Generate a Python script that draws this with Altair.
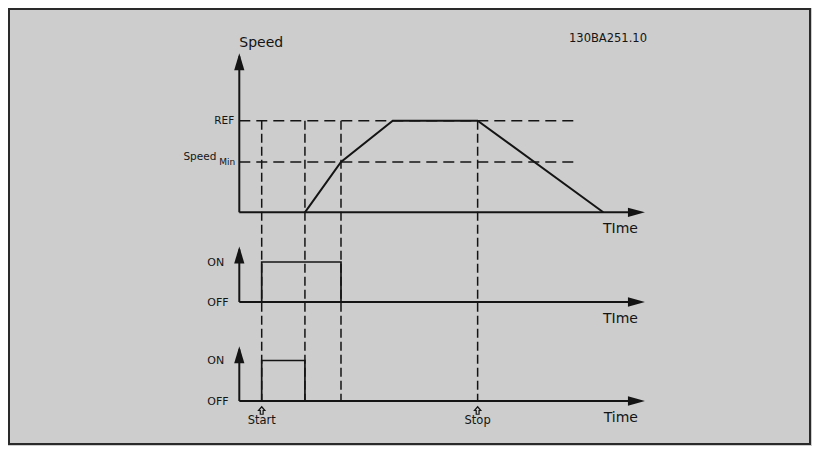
import altair as alt
import pandas as pd

# ---------------- data ----------------
# time in arbitrary units (start command at t = 1)
event_names = ["Start", "Stop"]
event_times = [1.0, 10.64]
guide_times = [1.0, 2.93, 4.54, 10.64]            # dashed vertical guides
ramp_times = [2.93, 4.54, 6.85, 10.64, 16.25]      # speed profile
ramp_speeds = [0, 55, 100, 100, 0]                 # % of REF
level_names = ["REF", "Speed"]
level_subs = ["", "Min"]
level_values = [100, 55]
guide_end = 15.06
time_end = 18.11
speed_top = 173.6
pulse1_times = [1.0, 1.0, 4.54, 4.54]
pulse1_states = [0, 1, 1, 0]
pulse2_times = [1.0, 1.0, 2.93, 2.93]
pulse2_states = [0, 1, 1, 0]
signal_tops = [1.39, 1.35]
time_labels = ["TIme", "TIme", "Time"]
state_labels = ["OFF", "ON"]
doc_code = "130BA251.10"
y_title = "Speed"

# ---------------- layout (styling only) ----------------
W, H = 801, 435
PAD = {"left": 1, "top": 1, "right": 2, "bottom": 2}
OFF_X, OFF_Y = 8 + PAD["left"], 8 + PAD["top"]
ORIGIN_PX = 239.3 - OFF_X          # where t = 0 sits
PX_PER_T = 22.4
t_min = -ORIGIN_PX / PX_PER_T
t_max = (W - ORIGIN_PX) / PX_PER_T
BASE_PAGE_Y = [212.3, 302.0, 401.0]
UNIT_PX = [0.916, 40.0, 40.5]
BASE = [H - (p - OFF_Y) for p in BASE_PAGE_Y]

INK = "#141414"
BG = "#cdcdcd"
FONT = "DejaVu Sans"


def ypos(panel, value):
    return BASE[panel] + UNIT_PX[panel] * value


X = alt.X("x:Q", scale=alt.Scale(domain=[t_min, t_max], nice=False, zero=False), axis=None)
Y = alt.Y("y:Q", scale=alt.Scale(domain=[0, H], nice=False, zero=False), axis=None)

# ---- signal lines ----
rows = []
for i, (t, v) in enumerate(zip(ramp_times, ramp_speeds)):
    rows.append(dict(series="speed", order=i, x=t, y=ypos(0, v)))
speed_df = pd.DataFrame(rows)
rows = []
for i, (t, v) in enumerate(zip(pulse1_times, pulse1_states)):
    rows.append(dict(series="p1", order=i, x=t, y=ypos(1, v)))
for i, (t, v) in enumerate(zip(pulse2_times, pulse2_states)):
    rows.append(dict(series="p2", order=i, x=t, y=ypos(2, v)))
pulse_df = pd.DataFrame(rows)

speed_line = alt.Chart(speed_df).mark_line(color=INK, strokeWidth=2).encode(
    x=X, y=Y, detail="series:N", order="order:Q")
pulse_line = alt.Chart(pulse_df).mark_line(color=INK, strokeWidth=1.7).encode(
    x=X, y=Y, detail="series:N", order="order:Q")

# ---- axes ----
tops = [speed_top] + signal_tops
axes_rows = []
for p in range(3):
    axes_rows.append(dict(x=0, x2=time_end - 0.3, y=ypos(p, 0), y2=ypos(p, 0)))
    axes_rows.append(dict(x=0, x2=0, y=ypos(p, 0), y2=ypos(p, tops[p]) - 3))
axes = alt.Chart(pd.DataFrame(axes_rows)).mark_rule(color=INK, strokeWidth=2).encode(
    x=X, x2="x2:Q", y=Y, y2="y2:Q")

# ---- dashed guides ----
gh = pd.DataFrame([dict(x=0, x2=guide_end, y=ypos(0, v), y2=ypos(0, v)) for v in level_values])
gv = pd.DataFrame([dict(x=t, x2=t, y=ypos(0, level_values[0]), y2=ypos(2, 0)) for t in guide_times])
guide_h = alt.Chart(gh).mark_rule(color=INK, strokeWidth=1.5, strokeDash=[11, 6]).encode(
    x=X, x2="x2:Q", y=Y, y2="y2:Q")
guide_v = alt.Chart(gv).mark_rule(color=INK, strokeWidth=1.5, strokeDash=[9, 4]).encode(
    x=X, x2="x2:Q", y=Y, y2="y2:Q")

# ---- arrowheads ----
RIGHT = "M0,0L-2,-0.55L-2,0.55Z"
UP = "M0,0L-0.6,2L0.6,2Z"
HOLLOW_UP = "M0,-1L0.85,0L0.38,0L0.38,1L-0.38,1L-0.38,0L-0.85,0Z"
ar_r = pd.DataFrame([dict(x=time_end, y=ypos(p, 0)) for p in range(3)])
ar_u = pd.DataFrame([dict(x=0, y=ypos(p, tops[p])) for p in range(3)])
ar_ev = pd.DataFrame([dict(x=t, y=ypos(2, 0) - 9.5) for t in event_times])
arrows_r = alt.Chart(ar_r).mark_point(shape=RIGHT, filled=True, size=289, color=INK,
                                      opacity=1, strokeWidth=0).encode(x=X, y=Y)
arrows_u = alt.Chart(ar_u).mark_point(shape=UP, filled=True, size=289, color=INK,
                                      opacity=1, strokeWidth=0).encode(x=X, y=Y)
arrows_ev = alt.Chart(ar_ev).mark_point(shape=HOLLOW_UP, filled=False, size=56, color=INK,
                                        opacity=1, strokeWidth=1.2).encode(x=X, y=Y)


# ---- texts ----
def text_layer(df, **kw):
    base = dict(font=FONT, color=INK, baseline="alphabetic")
    base.update(kw)
    return alt.Chart(pd.DataFrame(df)).mark_text(**base).encode(x=X, y=Y, text="text:N")


title_txt = text_layer([dict(x=0, y=ypos(0, speed_top), text=y_title)],
                       align="left", dy=-6.3, fontSize=14)
code_txt = text_layer([dict(x=time_end, y=ypos(0, speed_top), text=doc_code)],
                      align="right", dx=2, dy=-11.3, fontSize=11.5)
ref_txt = text_layer([dict(x=0, y=ypos(0, level_values[0]), text=level_names[0])],
                     align="right", dx=-5, dy=3.5, fontSize=10.5)
smin_txt = text_layer([dict(x=0, y=ypos(0, level_values[1]), text=level_names[1])],
                      align="right", dx=-23, dy=-1.6, fontSize=10.5)
smin_sub = text_layer([dict(x=0, y=ypos(0, level_values[1]), text=level_subs[1])],
                      align="right", dx=-4, dy=2.7, fontSize=9)
on_off = []
for p in (1, 2):
    for s, lab in enumerate(state_labels):
        on_off.append(dict(x=0, y=ypos(p, s), text=lab))
onoff_txt = alt.Chart(pd.DataFrame(on_off)).mark_text(
    font=FONT, color=INK, baseline="middle", align="left", dx=-32, dy=0.5, fontSize=11
).encode(x=X, y=Y, text="text:N")
time_txt = text_layer([dict(x=time_end, y=ypos(p, 0), text=time_labels[p]) for p in range(3)],
                      align="right", dx=-7, dy=21, fontSize=14)
ev_txt = text_layer([dict(x=t, y=ypos(2, 0), text=n) for t, n in zip(event_times, event_names)],
                    align="center", dy=23, fontSize=11.5)

chart = alt.layer(
    guide_h, guide_v, speed_line, pulse_line, axes, arrows_r, arrows_u, arrows_ev,
    title_txt, code_txt, ref_txt, smin_txt, smin_sub, onoff_txt, time_txt, ev_txt
).properties(
    width=W, height=H, background=BG, padding=PAD,
    autosize=alt.AutoSizeParams(type="none")
).configure_view(stroke="#2a2a2a", strokeWidth=2)

chart.save("out.html", embed_options={"renderer": "svg", "actions": False})
